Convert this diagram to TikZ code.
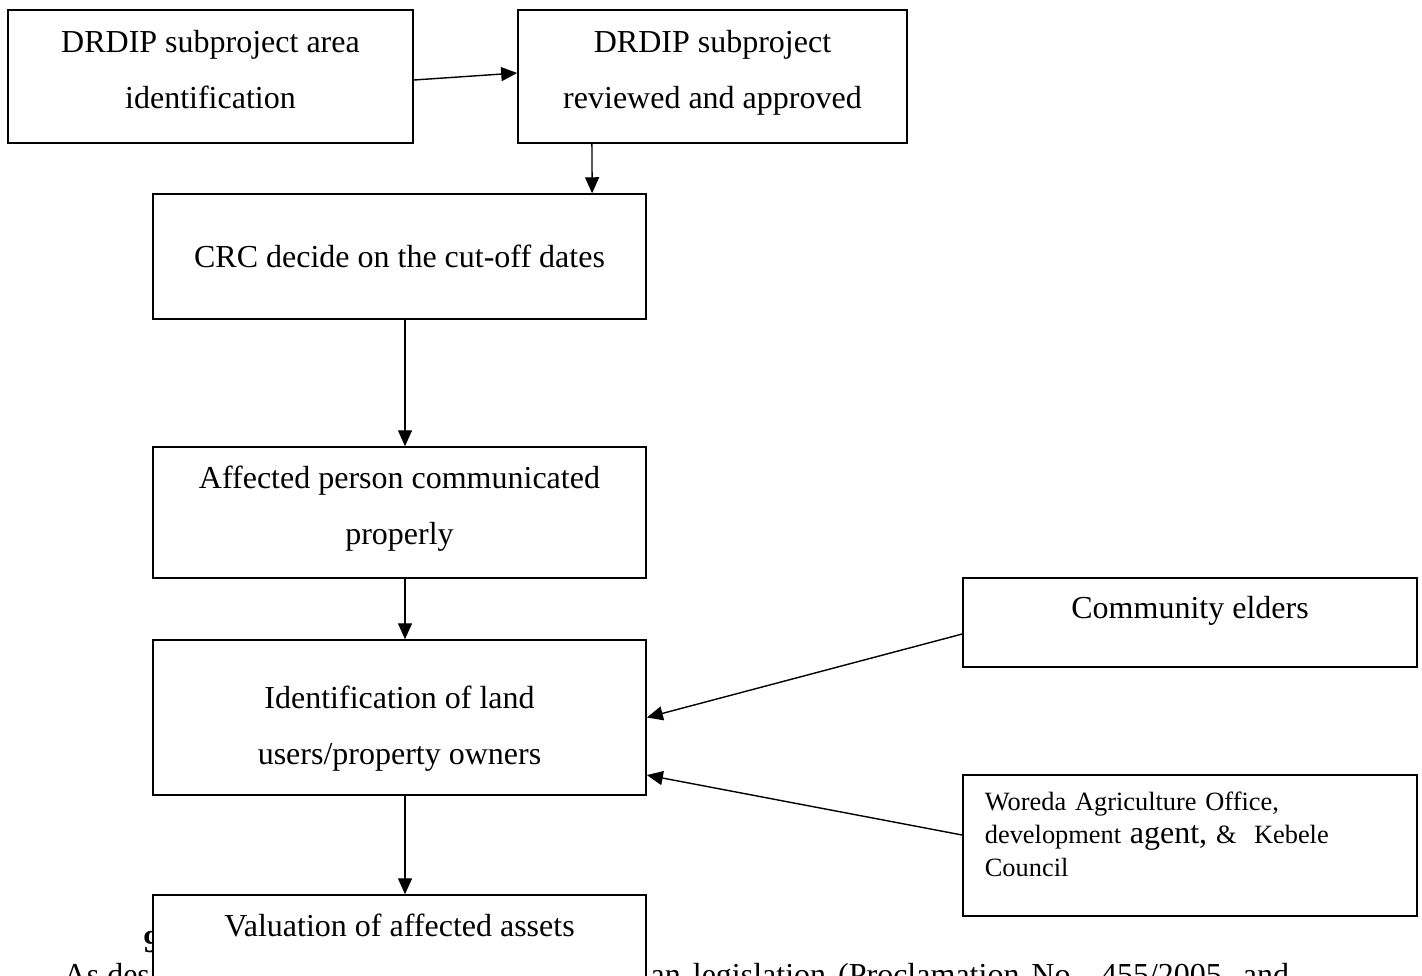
\documentclass[tikz,border=0pt]{standalone}
\usepackage{fontspec}
\setmainfont{Liberation Serif}
\usetikzlibrary{arrows.meta}
\newcommand{\boxfont}{\fontsize{9.1}{15.9}\selectfont}
\newcommand{\notefont}{\fontsize{7.5}{9.3}\selectfont}
\tikzset{
	->,
	>={Triangle[length=1.6mm,width=1.4mm]},
	line width=0.75pt,
	every node/.style={inner sep=0pt},
	stepbox/.style={draw, fill=white, align=center, font=\boxfont},
}

\begin{document}
\begin{tikzpicture}[x=0.01cm,y=-0.01cm]
		\useasboundingbox (0,0) rectangle (1422,975);
		\clip (0,0) rectangle (1422,975);

		% page text behind the chart
		\node[anchor=base west, font=\boxfont\bfseries] (secnum) at (143,952) {9};
		\node[anchor=base west, font=\boxfont] (bodyl) at (63,985) {As des};
		\node[anchor=base west, font=\boxfont] (bodyr) at (650,985) {\makebox[6.38cm][s]{an legislation (Proclamation No. 455/2005, and}};

		\node[stepbox, minimum width=4.05cm, minimum height=1.33cm, text depth=0.14cm] (ident) at (210.5,76.5) {DRDIP subproject area\\identification};
		\node[stepbox, minimum width=3.89cm, minimum height=1.33cm, text depth=0.15cm] (review) at (712.5,76.5) {DRDIP subproject\\reviewed and approved};
		\node[stepbox, minimum width=4.93cm, minimum height=1.25cm] (crc) at (399.5,256.5) {CRC decide on the cut-off dates};
		\node[stepbox, minimum width=4.93cm, minimum height=1.31cm, text depth=0.15cm] (comm) at (399.5,512.5) {Affected person communicated\\properly};
		\node[stepbox, minimum width=4.93cm, minimum height=1.55cm] (landusers) at (399.5,717.5) {\rule{0pt}{0.45cm}Identification of land\\users/property owners};
		\node[stepbox, minimum width=4.93cm, minimum height=1.16cm] (valuation) at (399.5,953) {Valuation of affected assets\\\mbox{}};
		\node[stepbox, minimum width=4.54cm, minimum height=0.89cm, text depth=0.3cm] (elders) at (1190,622.5) {Community elders};
		\node[stepbox, align=left, text width=4.1cm, minimum width=4.54cm, minimum height=1.41cm, font=\notefont] (woreda) at (1190,845.5) {Woreda Agriculture Office,\\development {\boxfont agent,} \&~ Kebele\\Council\\[-0.1cm]\mbox{}};

		\path ([yshift=-0.035cm]ident.east) edge ([yshift=0.035cm]review.west)
		([xshift=-1.205cm]review.south) edge ([xshift=1.925cm]crc.north)
		([xshift=0.055cm]crc.south) edge ([xshift=0.055cm]comm.north)
		([xshift=0.055cm]comm.south) edge ([xshift=0.055cm]landusers.north)
		([xshift=0.055cm]landusers.south) edge ([xshift=0.055cm]valuation.north)
		([yshift=-0.115cm]elders.west) edge (landusers.east)
		([yshift=0.105cm]woreda.west) edge ([yshift=-0.575cm]landusers.east);
	\end{tikzpicture}
\end{document}
